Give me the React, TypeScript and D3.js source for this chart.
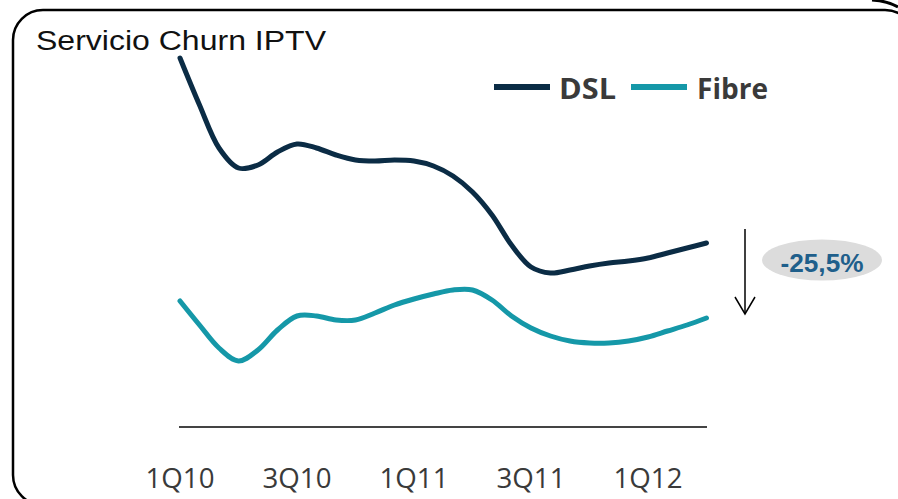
import React from 'react'
import * as d3 from 'd3'

// monthly points, Jan 2010 .. Apr 2012
const months = [
  'Jan10', 'Feb10', 'Mar10', 'Apr10', 'May10', 'Jun10', 'Jul10', 'Aug10', 'Sep10', 'Oct10',
  'Nov10', 'Dec10', 'Jan11', 'Feb11', 'Mar11', 'Apr11', 'May11', 'Jun11', 'Jul11', 'Aug11',
  'Sep11', 'Oct11', 'Nov11', 'Dec11', 'Jan12', 'Feb12', 'Mar12', 'Apr12',
]
const dsl = [
  18.4, 16.05, 13.9, 12.9, 13.05, 13.7, 14.1, 13.9, 13.55, 13.3, 13.25, 13.3, 13.25, 13.0,
  12.5, 11.7, 10.55, 9.05, 7.95, 7.65, 7.8, 8.0, 8.15, 8.25, 8.4, 8.65, 8.9, 9.15,
]
const fibre = [
  6.25, 5.05, 3.9, 3.25, 3.8, 4.8, 5.5, 5.5, 5.3, 5.3, 5.65, 6.05, 6.35, 6.6, 6.8, 6.8,
  6.3, 5.5, 4.9, 4.5, 4.25, 4.15, 4.15, 4.25, 4.45, 4.75, 5.05, 5.4,
]
const tickLabels = [
  { month: 'Jan10', label: '1Q10' },
  { month: 'Jul10', label: '3Q10' },
  { month: 'Jan11', label: '1Q11' },
  { month: 'Jul11', label: '3Q11' },
  { month: 'Jan12', label: '1Q12' },
]
const series = [
  { name: 'DSL', values: dsl, color: '#0b2c45' },
  { name: 'Fibre', values: fibre, color: '#1598a8' },
]

export default function App() {
  const x = d3.scalePoint().domain(months).range([180, 706.5])
  const y = d3.scaleLinear().domain([0, 20]).range([426, 26])
  const line = d3
    .line<number>()
    .x((_, i) => x(months[i]))
    .y((d) => y(d))
    .curve(d3.curveCatmullRom)

  return (
    <svg
      width={898}
      height={499}
      style={{ position: 'absolute', left: 0, top: 0, background: '#fff' }}
    >
      {/* frame */}
      <rect x={13} y={10} width={902} height={495} rx={30} fill="none" stroke="#000" strokeWidth={2.5} />
      <path d="M872,0 Q888,1 898,7" fill="none" stroke="#000" strokeWidth={3} />

      <text
        x={36}
        y={50}
        fontFamily="Liberation Sans, Arial, sans-serif"
        fontSize={27}
        textLength={290}
        lengthAdjust="spacingAndGlyphs"
        fill="#111"
      >
        Servicio Churn IPTV
      </text>

      {series.map((s) => (
        <path
          key={s.name}
          d={line(s.values) || ''}
          fill="none"
          stroke={s.color}
          strokeWidth={5}
          strokeLinecap="round"
          strokeLinejoin="round"
        />
      ))}

      {/* axis */}
      <line x1={179} x2={707} y1={y(0) + 1} y2={y(0) + 1} stroke="#444" strokeWidth={2} />
      {tickLabels.map((t) => (
        <text
          key={t.label}
          x={x(t.month)}
          y={488}
          textAnchor="middle"
          fontFamily="Open Sans, sans-serif"
          fontSize={27}
          textLength={69}
          lengthAdjust="spacingAndGlyphs"
          fill="#3a3a3a"
        >
          {t.label}
        </text>
      ))}

      {/* legend */}
      <line x1={494} x2={550} y1={87} y2={87} stroke={series[0].color} strokeWidth={6} />
      <text x={559} y={99} fontFamily="Open Sans, sans-serif" fontWeight="bold" fontSize={29}
        textLength={57} lengthAdjust="spacingAndGlyphs" fill="#3a3a3a">DSL</text>
      <line x1={631} x2={687} y1={87} y2={87} stroke={series[1].color} strokeWidth={6} />
      <text x={697} y={99} fontFamily="Open Sans, sans-serif" fontWeight="bold" fontSize={29}
        textLength={71} lengthAdjust="spacingAndGlyphs" fill="#3a3a3a">Fibre</text>

      {/* change annotation */}
      <line x1={745} x2={745} y1={229} y2={313} stroke="#000" strokeWidth={1.5} />
      <path d="M735,297 L745,314 L755,297" fill="none" stroke="#000" strokeWidth={1.5} />
      <ellipse cx={822} cy={260} rx={60} ry={20.5} fill="#dcdcdc" />
      <text x={822} y={272} textAnchor="middle" fontFamily="Liberation Sans, Arial, sans-serif"
        fontWeight="bold" fontSize={25} textLength={83} lengthAdjust="spacingAndGlyphs" fill="#1f5f8b">
        -25,5%
      </text>
    </svg>
  )
}
